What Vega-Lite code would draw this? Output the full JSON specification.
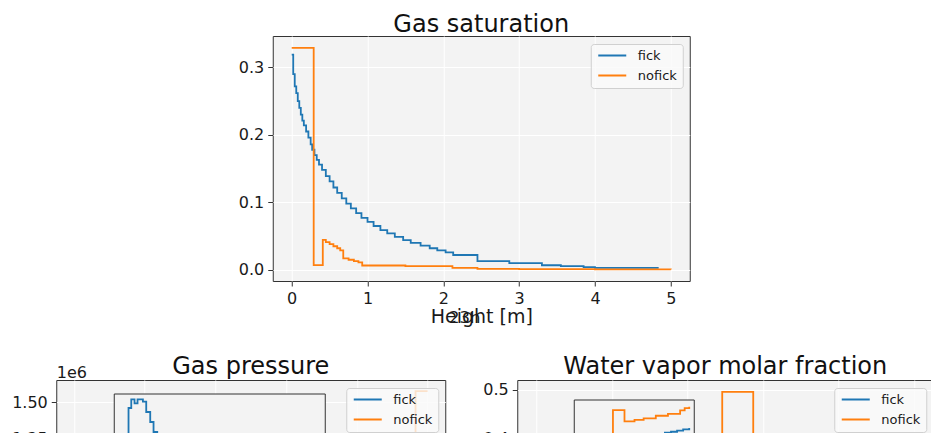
{
  "$schema": "https://vega.github.io/schema/vega-lite/v6.json",
  "background": "white",
  "padding": {"left": 11, "top": 12, "right": 0, "bottom": 0},
  "datasets": {
    "sat": [
      {"series": "fick", "h": 0.00, "v": 0.319},
      {"series": "fick", "h": 0.02, "v": 0.290},
      {"series": "fick", "h": 0.04, "v": 0.272},
      {"series": "fick", "h": 0.06, "v": 0.262},
      {"series": "fick", "h": 0.08, "v": 0.250},
      {"series": "fick", "h": 0.10, "v": 0.240},
      {"series": "fick", "h": 0.12, "v": 0.230},
      {"series": "fick", "h": 0.14, "v": 0.221},
      {"series": "fick", "h": 0.16, "v": 0.214},
      {"series": "fick", "h": 0.19, "v": 0.205},
      {"series": "fick", "h": 0.22, "v": 0.196},
      {"series": "fick", "h": 0.25, "v": 0.186},
      {"series": "fick", "h": 0.27, "v": 0.178},
      {"series": "fick", "h": 0.30, "v": 0.170},
      {"series": "fick", "h": 0.33, "v": 0.163},
      {"series": "fick", "h": 0.36, "v": 0.156},
      {"series": "fick", "h": 0.40, "v": 0.148},
      {"series": "fick", "h": 0.45, "v": 0.139},
      {"series": "fick", "h": 0.50, "v": 0.131},
      {"series": "fick", "h": 0.55, "v": 0.122},
      {"series": "fick", "h": 0.60, "v": 0.114},
      {"series": "fick", "h": 0.66, "v": 0.106},
      {"series": "fick", "h": 0.72, "v": 0.098},
      {"series": "fick", "h": 0.78, "v": 0.091},
      {"series": "fick", "h": 0.85, "v": 0.084},
      {"series": "fick", "h": 0.92, "v": 0.077},
      {"series": "fick", "h": 1.00, "v": 0.071},
      {"series": "fick", "h": 1.08, "v": 0.065},
      {"series": "fick", "h": 1.17, "v": 0.059},
      {"series": "fick", "h": 1.26, "v": 0.054},
      {"series": "fick", "h": 1.36, "v": 0.049},
      {"series": "fick", "h": 1.47, "v": 0.044},
      {"series": "fick", "h": 1.57, "v": 0.040},
      {"series": "fick", "h": 1.70, "v": 0.036},
      {"series": "fick", "h": 1.82, "v": 0.032},
      {"series": "fick", "h": 1.92, "v": 0.029},
      {"series": "fick", "h": 2.03, "v": 0.026},
      {"series": "fick", "h": 2.13, "v": 0.022},
      {"series": "fick", "h": 2.45, "v": 0.013},
      {"series": "fick", "h": 2.87, "v": 0.010},
      {"series": "fick", "h": 3.30, "v": 0.0068},
      {"series": "fick", "h": 3.55, "v": 0.0055},
      {"series": "fick", "h": 3.85, "v": 0.004},
      {"series": "fick", "h": 4.00, "v": 0.003},
      {"series": "fick", "h": 4.84, "v": 0.003},
      {"series": "nofick", "h": 0.00, "v": 0.329},
      {"series": "nofick", "h": 0.29, "v": 0.007},
      {"series": "nofick", "h": 0.41, "v": 0.0445},
      {"series": "nofick", "h": 0.45, "v": 0.041},
      {"series": "nofick", "h": 0.50, "v": 0.038},
      {"series": "nofick", "h": 0.55, "v": 0.035},
      {"series": "nofick", "h": 0.60, "v": 0.032},
      {"series": "nofick", "h": 0.64, "v": 0.029},
      {"series": "nofick", "h": 0.68, "v": 0.017},
      {"series": "nofick", "h": 0.75, "v": 0.015},
      {"series": "nofick", "h": 0.82, "v": 0.013},
      {"series": "nofick", "h": 0.88, "v": 0.011},
      {"series": "nofick", "h": 0.93, "v": 0.0065},
      {"series": "nofick", "h": 1.50, "v": 0.0055},
      {"series": "nofick", "h": 2.12, "v": 0.003},
      {"series": "nofick", "h": 2.45, "v": 0.0015},
      {"series": "nofick", "h": 3.00, "v": 0.0012},
      {"series": "nofick", "h": 4.00, "v": 0.0008},
      {"series": "nofick", "h": 5.00, "v": 0.0005}
    ],
    "press": [
      {"series": "fick", "h": 0.0, "v": 103000},
      {"series": "fick", "h": 0.0098, "v": 106250},
      {"series": "fick", "h": 0.0169, "v": 106522},
      {"series": "fick", "h": 0.0254, "v": 106397},
      {"series": "fick", "h": 0.0332, "v": 106522},
      {"series": "fick", "h": 0.0472, "v": 106447},
      {"series": "fick", "h": 0.0558, "v": 106125},
      {"series": "fick", "h": 0.0662, "v": 105812},
      {"series": "fick", "h": 0.0748, "v": 105500},
      {"series": "fick", "h": 0.0844, "v": 104800},
      {"series": "fick", "h": 0.12, "v": 103600},
      {"series": "fick", "h": 0.16, "v": 102800},
      {"series": "fick", "h": 0.25, "v": 102200},
      {"series": "fick", "h": 0.40, "v": 101800},
      {"series": "fick", "h": 0.60, "v": 101600},
      {"series": "fick", "h": 1.0, "v": 101500},
      {"series": "fick", "h": 2.0, "v": 101400},
      {"series": "fick", "h": 3.0, "v": 101350},
      {"series": "fick", "h": 4.0, "v": 101300},
      {"series": "fick", "h": 4.84, "v": 101300},
      {"series": "nofick", "h": 0.0, "v": 101300},
      {"series": "nofick", "h": 0.3, "v": 101400},
      {"series": "nofick", "h": 1.0, "v": 101400},
      {"series": "nofick", "h": 2.0, "v": 101350},
      {"series": "nofick", "h": 3.0, "v": 101330},
      {"series": "nofick", "h": 4.0, "v": 101320},
      {"series": "nofick", "h": 4.83, "v": 1576000},
      {"series": "nofick", "h": 5.0, "v": 1576000}
    ],
    "vap": [
      {"series": "fick", "h": 0.0, "v": 0.012},
      {"series": "fick", "h": 0.5, "v": 0.018},
      {"series": "fick", "h": 1.0, "v": 0.022},
      {"series": "fick", "h": 2.0, "v": 0.026},
      {"series": "fick", "h": 3.0, "v": 0.028},
      {"series": "fick", "h": 4.0, "v": 0.0300},
      {"series": "fick", "h": 4.25, "v": 0.0306},
      {"series": "fick", "h": 4.5, "v": 0.0312},
      {"series": "fick", "h": 4.7, "v": 0.0316},
      {"series": "fick", "h": 4.8, "v": 0.0319},
      {"series": "fick", "h": 4.84, "v": 0.03211},
      {"series": "fick", "h": 4.88, "v": 0.03222},
      {"series": "fick", "h": 4.92, "v": 0.03234},
      {"series": "fick", "h": 4.96, "v": 0.03248},
      {"series": "fick", "h": 5.0, "v": 0.03263},
      {"series": "nofick", "h": 0.0, "v": 0.020},
      {"series": "nofick", "h": 0.3, "v": 0.022},
      {"series": "nofick", "h": 1.0, "v": 0.025},
      {"series": "nofick", "h": 2.0, "v": 0.027},
      {"series": "nofick", "h": 2.46, "v": 0.496},
      {"series": "nofick", "h": 2.87, "v": 0.029},
      {"series": "nofick", "h": 3.5, "v": 0.030},
      {"series": "nofick", "h": 4.25, "v": 0.0305},
      {"series": "nofick", "h": 4.498, "v": 0.03463},
      {"series": "nofick", "h": 4.574, "v": 0.03337},
      {"series": "nofick", "h": 4.64, "v": 0.03355},
      {"series": "nofick", "h": 4.70, "v": 0.03370},
      {"series": "nofick", "h": 4.78, "v": 0.03400},
      {"series": "nofick", "h": 4.86, "v": 0.03420},
      {"series": "nofick", "h": 4.94, "v": 0.03460},
      {"series": "nofick", "h": 4.97, "v": 0.03485},
      {"series": "nofick", "h": 5.0, "v": 0.03500}
    ]
  },
  "spacing": 27,
  "center": true,
  "resolve": {"scale": {"color": "independent"}, "legend": {"color": "independent"}},
  "vconcat": [
    {
      "title": {"text": "Gas saturation", "offset": -1},
      "width": 417,
      "height": 245,
      "data": {"name": "sat"},
      "layer": [
        {
          "transform": [{"filter": "datum.series === 'fick'"}],
          "mark": {"type": "line", "interpolate": "step-after", "strokeWidth": 1.8},
          "encoding": {
            "x": {"field": "h", "type": "quantitative", "scale": {"domain": [-0.25, 5.25], "nice": false, "zero": false},
                  "axis": {"orient": "bottom", "values": [0, 1, 2, 3, 4, 5], "title": "Height [m]", "grid": true, "titlePadding": 1}},
            "y": {"field": "v", "type": "quantitative", "scale": {"domain": [-0.0165, 0.3465], "nice": false, "zero": false},
                  "axis": {"orient": "left", "values": [0, 0.1, 0.2, 0.3], "format": ".1f", "title": null, "grid": true}},
            "color": {"field": "series", "type": "nominal", "scale": {"domain": ["fick", "nofick"], "range": ["#1f77b4", "#ff7f0e"]}, "legend": {"title": null}}
          }
        },
        {
          "transform": [{"filter": "datum.series === 'nofick'"}],
          "mark": {"type": "line", "interpolate": "step-after", "strokeWidth": 1.8},
          "encoding": {
            "x": {"field": "h", "type": "quantitative",
                  "axis": {"orient": "bottom", "title": "23h", "labels": false, "ticks": false, "grid": false, "domain": false, "titleX": 191.5, "titleY": 36, "titleAlign": "center", "titleBaseline": "middle", "titleFontSize": 16.5}},
            "y": {"field": "v", "type": "quantitative",
                  "axis": {"orient": "right", "title": null, "labels": false, "ticks": false, "grid": false, "domain": false, "minExtent": 27, "maxExtent": 27}},
            "color": {"field": "series", "type": "nominal", "scale": {"domain": ["fick", "nofick"], "range": ["#1f77b4", "#ff7f0e"]}, "legend": {"title": null}}
          }
        }
      ],
      "resolve": {"axis": {"x": "independent", "y": "independent"}}
    },
    {
      "spacing": 36,
      "resolve": {"scale": {"color": "independent"}, "legend": {"color": "independent"}},
      "hconcat": [
        {
          "title": {"text": "Gas pressure", "offset": -14.5},
          "width": 389,
          "height": 234,
          "data": {"name": "press"},
          "layer": [
            {
              "mark": {"type": "line", "interpolate": "step-after", "strokeWidth": 1.8},
              "encoding": {
                "x": {"field": "h", "type": "quantitative", "scale": {"domain": [-0.25, 5.25], "nice": false, "zero": false},
                      "axis": {"orient": "bottom", "values": [0, 1, 2, 3, 4, 5], "title": "Height [m]", "grid": true}},
                "y": {"field": "v", "type": "quantitative", "scale": {"domain": [26000, 1654000], "nice": false, "zero": false},
                      "axis": {"orient": "left", "values": [250000, 500000, 750000, 1000000, 1250000, 1500000], "labelExpr": "format(datum.value / 1000000, '.2f')", "grid": true,
                               "title": "1e6", "titleAngle": 0, "titleAlign": "left", "titleBaseline": "alphabetic", "titleX": 0, "titleY": -3, "titleFontSize": 16}},
                "color": {"field": "series", "type": "nominal", "scale": {"domain": ["fick", "nofick"], "range": ["#1f77b4", "#ff7f0e"]}, "legend": {"title": null}}
              }
            },
            {
              "layer": [
                {
                  "data": {"values": [{"frame": "inset"}]},
                  "mark": {"type": "rect", "fill": "#f3f3f3", "stroke": "#333333", "strokeWidth": 1},
                  "encoding": {
                    "x": {"datum": -0.0273, "type": "quantitative", "axis": null},
                    "x2": {"datum": 0.521},
                    "y": {"datum": 101687.5, "type": "quantitative", "axis": null},
                    "y2": {"datum": 106687.5}
                  }
                },
                {
                  "transform": [{"filter": "datum.h <= 0.52"}],
                  "mark": {"type": "line", "interpolate": "step-after", "strokeWidth": 1.8},
                  "encoding": {
                    "x": {"field": "h", "type": "quantitative", "scale": {"domain": [-0.0273, 0.521], "range": [58, 269], "nice": false, "zero": false},
                          "axis": {"orient": "bottom", "values": [0.1, 0.2, 0.3, 0.4, 0.5], "labels": false, "ticks": false, "title": null, "grid": true, "zindex": 1}},
                    "y": {"field": "v", "type": "quantitative", "scale": {"domain": [101687.5, 106687.5], "range": [174, 14], "nice": false, "zero": false},
                          "axis": {"orient": "left", "offset": -58, "values": [102000, 103000, 104000, 105000, 106000], "format": "d", "labelFontSize": 11, "tickSize": 3.5, "labelPadding": 3, "title": null, "grid": true, "zindex": 1}},
                    "color": {"field": "series", "type": "nominal", "scale": {"domain": ["fick", "nofick"], "range": ["#1f77b4", "#ff7f0e"]}, "legend": {"title": null}}
                  }
                }
              ]
            }
          ],
          "resolve": {"scale": {"x": "independent", "y": "independent"}, "axis": {"x": "independent", "y": "independent"}}
        },
        {
          "title": {"text": "Water vapor molar fraction", "offset": 1},
          "width": 416,
          "height": 262,
          "data": {"name": "vap"},
          "layer": [
            {
              "mark": {"type": "line", "interpolate": "step-after", "strokeWidth": 1.8},
              "encoding": {
                "x": {"field": "h", "type": "quantitative", "scale": {"domain": [-0.25, 5.25], "nice": false, "zero": false},
                      "axis": {"orient": "bottom", "values": [0, 1, 2, 3, 4, 5], "title": "Height [m]", "grid": true}},
                "y": {"field": "v", "type": "quantitative", "scale": {"domain": [-0.0248, 0.5208], "nice": false, "zero": false},
                      "axis": {"orient": "left", "values": [0, 0.1, 0.2, 0.3, 0.4, 0.5], "format": ".1f", "title": null, "grid": true}},
                "color": {"field": "series", "type": "nominal", "scale": {"domain": ["fick", "nofick"], "range": ["#1f77b4", "#ff7f0e"]}, "legend": {"title": null}}
              }
            },
            {
              "layer": [
                {
                  "data": {"values": [{"frame": "inset"}]},
                  "mark": {"type": "rect", "fill": "#f3f3f3", "stroke": "#333333", "strokeWidth": 1},
                  "encoding": {
                    "x": {"datum": 4.2434, "type": "quantitative", "axis": null},
                    "x2": {"datum": 5.033},
                    "y": {"datum": 0.019083, "type": "quantitative", "axis": null},
                    "y2": {"datum": 0.03575}
                  }
                },
                {
                  "transform": [{"filter": "datum.h >= 4.25"}],
                  "mark": {"type": "line", "interpolate": "step-after", "strokeWidth": 1.8},
                  "encoding": {
                    "x": {"field": "h", "type": "quantitative", "scale": {"domain": [4.2434, 5.033], "range": [57, 177], "nice": false, "zero": false},
                          "axis": {"orient": "bottom", "values": [4.5, 4.75, 5.0], "labels": false, "ticks": false, "title": null, "grid": true, "zindex": 1}},
                    "y": {"field": "v", "type": "quantitative", "scale": {"domain": [0.019083, 0.03575], "range": [170, 20], "nice": false, "zero": false},
                          "axis": {"orient": "left", "offset": -57, "values": [0.020, 0.025, 0.030, 0.035], "format": ".3f", "labelFontSize": 11, "tickSize": 3.5, "labelPadding": 3, "title": null, "grid": true, "zindex": 1}},
                    "color": {"field": "series", "type": "nominal", "scale": {"domain": ["fick", "nofick"], "range": ["#1f77b4", "#ff7f0e"]}, "legend": {"title": null}}
                  }
                }
              ]
            }
          ],
          "resolve": {"scale": {"x": "independent", "y": "independent"}, "axis": {"x": "independent", "y": "independent"}}
        }
      ]
    }
  ],
  "config": {
    "font": "DejaVu Sans",
    "view": {"fill": "#f3f3f3", "stroke": "#333333", "strokeWidth": 1},
    "axis": {
      "domain": false,
      "gridColor": "#ffffff",
      "gridOpacity": 1,
      "gridWidth": 1,
      "tickColor": "#333333",
      "tickSize": 5,
      "tickWidth": 1,
      "labelFont": "DejaVu Sans",
      "labelFontSize": 16,
      "labelColor": "#1a1a1a",
      "labelPadding": 4,
      "labelFlush": false,
      "labelOverlap": false,
      "titleFont": "DejaVu Sans",
      "titleFontSize": 19,
      "titleFontWeight": "normal",
      "titleColor": "#1a1a1a"
    },
    "title": {"font": "DejaVu Sans", "fontSize": 24, "fontWeight": "normal", "color": "#111111", "offset": 0, "frame": "group", "anchor": "middle"},
    "legend": {
      "orient": "top-right",
      "offset": 7.5,
      "padding": 5,
      "fillColor": "rgba(250,250,250,0.8)",
      "strokeColor": "#d0d0d0",
      "cornerRadius": 3,
      "symbolType": "M-0.8,0L4.8,0",
      "symbolSize": 100,
      "symbolStrokeWidth": 2,
      "labelFont": "DejaVu Sans",
      "labelFontSize": 13,
      "labelColor": "#1a1a1a",
      "labelOffset": 29,
      "rowPadding": 6
    }
  }
}
